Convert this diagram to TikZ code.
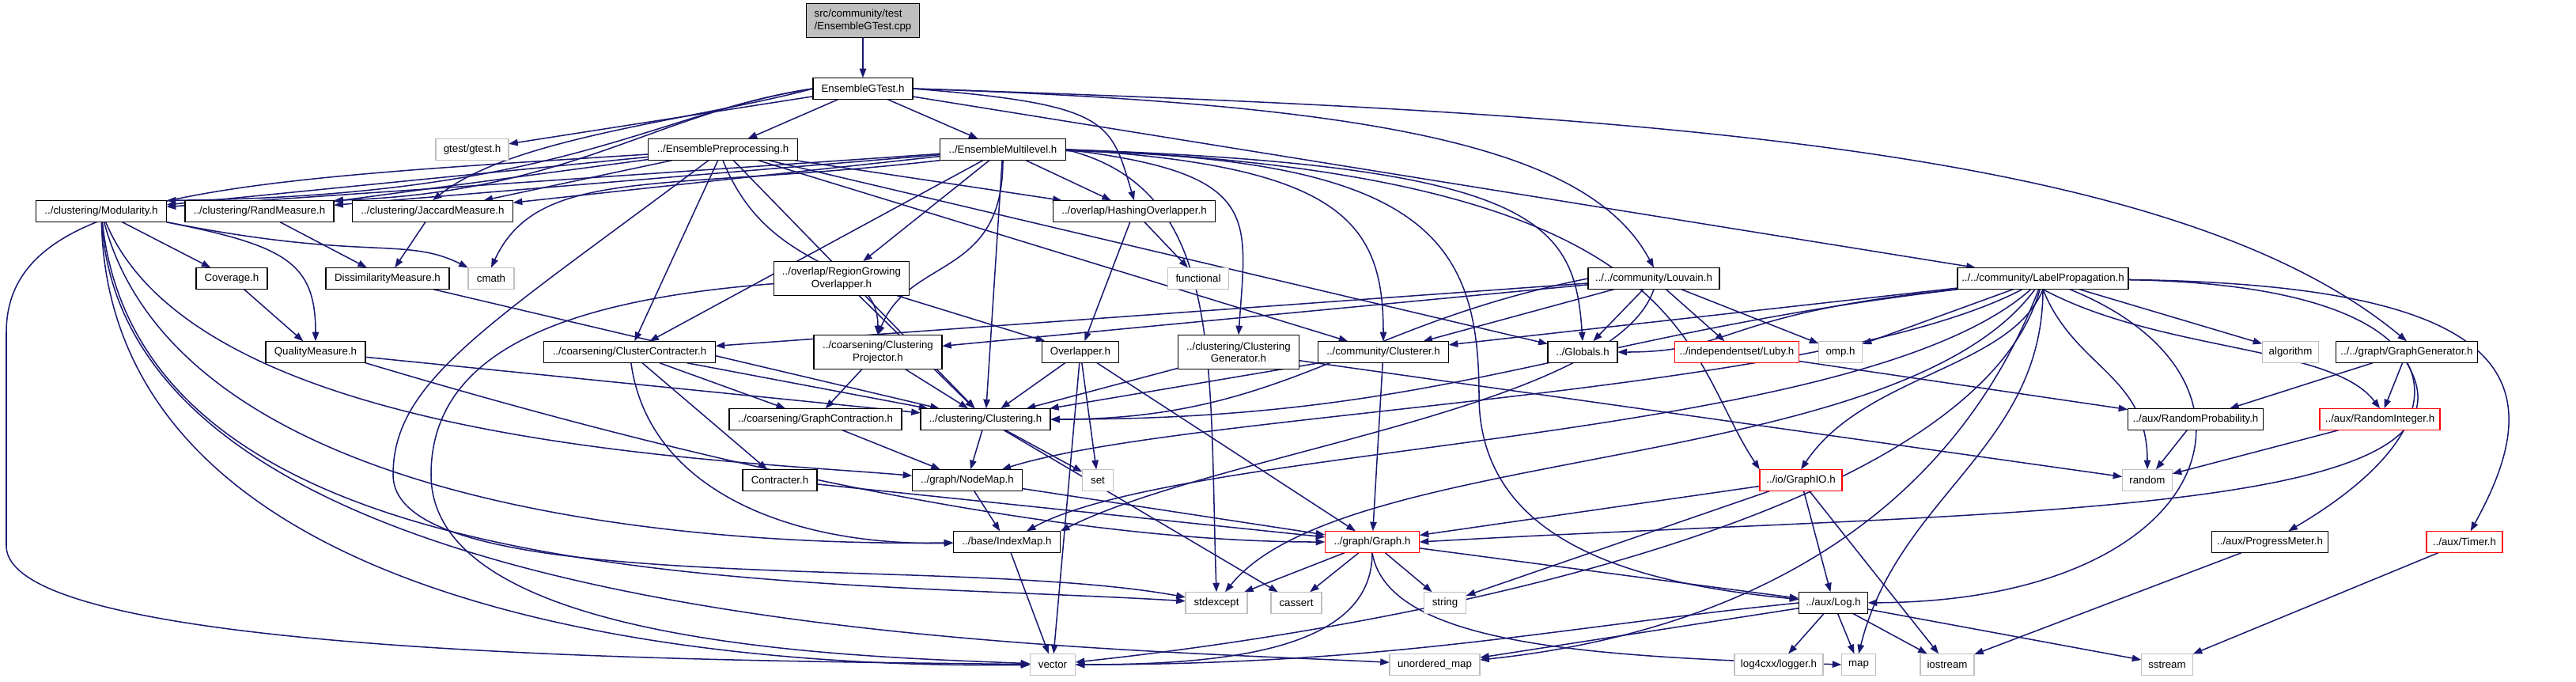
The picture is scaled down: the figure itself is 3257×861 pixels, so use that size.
\documentclass[tikz,border=0pt]{standalone}
\usepackage{fontspec}
\setmainfont{Liberation Sans}
\usetikzlibrary{arrows.meta,backgrounds}
\definecolor{edgeblue}{HTML}{191970}
\definecolor{sysgray}{HTML}{BFBFBF}

\begin{document}
\begin{tikzpicture}[x=1pt, y=1pt, scale=0.25,
	every node/.style={font=\fontsize{13.3}{15.5}\selectfont, transform shape},
	hdr/.style={draw=black, fill=white, line width=0.4pt, minimum height=27pt, inner sep=0pt, anchor=center, align=center},
	sys/.style={hdr, draw=sysgray},
	bad/.style={hdr, draw=red},
	dep/.style={draw=edgeblue, line width=0.38pt, -{Triangle[length=2.9pt,width=2.1pt]}}]
	\useasboundingbox (0,0) rectangle (3257,-861);
	\node[hdr, fill=sysgray, minimum width=143pt, minimum height=43pt, align=left] (cpp) at (1091,-26) {src/community/test\\/EnsembleGTest.cpp};
	\node[hdr, minimum width=126pt] (gtesth) at (1091,-112) {EnsembleGTest.h};
	\node[sys, minimum width=92pt] (gtest) at (597,-189) {gtest/gtest.h};
	\node[hdr, minimum width=189pt] (prep) at (914,-189) {../EnsemblePreprocessing.h};
	\node[hdr, minimum width=159pt] (multi) at (1268,-189) {../EnsembleMultilevel.h};
	\node[hdr, minimum width=165pt] (modul) at (128,-267) {../clustering/Modularity.h};
	\node[hdr, minimum width=188pt] (rand) at (328,-267) {../clustering/RandMeasure.h};
	\node[hdr, minimum width=203pt] (jacc) at (547,-267) {../clustering/JaccardMeasure.h};
	\node[hdr, minimum width=205pt] (hashov) at (1434,-267) {../overlap/HashingOverlapper.h};
	\node[hdr, minimum width=90pt] (cover) at (293,-352) {Coverage.h};
	\node[hdr, minimum width=156pt] (dissim) at (490,-352) {DissimilarityMeasure.h};
	\node[sys, minimum width=58pt] (cmath) at (621,-352) {cmath};
	\node[hdr, minimum width=171pt, minimum height=43pt] (regov) at (1064,-352) {../overlap/RegionGrowing\\Overlapper.h};
	\node[sys, minimum width=77pt] (functional) at (1515,-352) {functional};
	\node[hdr, minimum width=166pt] (louvain) at (2091,-352) {../../community/Louvain.h};
	\node[hdr, minimum width=216pt] (labelprop) at (2583,-352) {../../community/LabelPropagation.h};
	\node[hdr, minimum width=126pt] (quality) at (399,-445) {QualityMeasure.h};
	\node[hdr, minimum width=217pt] (clcontr) at (796,-445) {../coarsening/ClusterContracter.h};
	\node[hdr, minimum width=162pt, minimum height=43pt] (clproj) at (1110,-445) {../coarsening/Clustering\\Projector.h};
	\node[hdr, minimum width=97pt] (overl) at (1366,-445) {Overlapper.h};
	\node[hdr, minimum width=153pt, minimum height=43pt] (clgen) at (1566,-445) {../clustering/Clustering\\Generator.h};
	\node[hdr, minimum width=165pt] (clusterer) at (1749,-445) {../community/Clusterer.h};
	\node[hdr, minimum width=88pt] (globals) at (2001,-445) {../Globals.h};
	\node[bad, minimum width=157pt] (luby) at (2196,-445) {../independentset/Luby.h};
	\node[sys, minimum width=55pt] (omp) at (2327,-445) {omp.h};
	\node[sys, minimum width=71pt] (algorithm) at (2896,-445) {algorithm};
	\node[hdr, minimum width=179pt] (graphgen) at (3043,-445) {../../graph/GraphGenerator.h};
	\node[hdr, minimum width=218pt] (graphcontr) at (1031,-530) {../coarsening/GraphContraction.h};
	\node[hdr, minimum width=164pt] (clustering) at (1246,-530) {../clustering/Clustering.h};
	\node[hdr, minimum width=171pt] (randprob) at (2776,-530) {../aux/RandomProbability.h};
	\node[bad, minimum width=152pt] (randint) at (3009,-530) {../aux/RandomInteger.h};
	\node[hdr, minimum width=94pt] (contracter) at (986,-607) {Contracter.h};
	\node[hdr, minimum width=139pt] (nodemap) at (1223,-607) {../graph/NodeMap.h};
	\node[sys, minimum width=39pt] (set) at (1388,-607) {set};
	\node[bad, minimum width=104pt] (graphio) at (2277,-607) {../io/GraphIO.h};
	\node[sys, minimum width=63pt] (random) at (2715,-607) {random};
	\node[hdr, minimum width=135pt] (indexmap) at (1273,-685) {../base/IndexMap.h};
	\node[bad, minimum width=119pt] (graph) at (1735,-685) {../graph/Graph.h};
	\node[hdr, minimum width=147pt] (progress) at (2870,-685) {../aux/ProgressMeter.h};
	\node[bad, minimum width=96pt] (timer) at (3116,-685) {../aux/Timer.h};
	\node[sys, minimum width=78pt] (stdexcept) at (1538,-762) {stdexcept};
	\node[sys, minimum width=64pt] (cassert) at (1639,-762) {cassert};
	\node[sys, minimum width=53pt] (string) at (1827,-762) {string};
	\node[hdr, minimum width=87pt] (log) at (2318,-762) {../aux/Log.h};
	\node[sys, minimum width=57pt] (vector) at (1331,-840) {vector};
	\node[sys, minimum width=114pt] (umap) at (1814,-840) {unordered\_map};
	\node[sys, minimum width=112pt] (log4cxx) at (2249,-840) {log4cxx/logger.h};
	\node[sys, minimum width=43pt] (map) at (2350,-840) {map};
	\node[sys, minimum width=68pt] (iostream) at (2462,-840) {iostream};
	\node[sys, minimum width=65pt] (sstream) at (2740,-840) {sstream};
	\begin{scope}[on background layer]
	\path (cpp) edge[dep] (gtesth);
	\path (gtesth) edge[dep] (gtest) edge[dep] (prep) edge[dep] (multi) edge[dep] (labelprop);
	\draw[dep] (gtesth.west) .. controls +(-200,-30) and +(500,5) .. (modul.north east);
	\draw[dep] (gtesth.west) .. controls +(-200,-30) and +(300,10) .. (rand.north east);
	\draw[dep] (gtesth.west) .. controls +(-150,-40) and +(100,80) .. (jacc.north);
	\draw[dep] (gtesth.east) .. controls +(250,-20) and +(-30,100) .. (hashov.north);
	\draw[dep] (gtesth.east) .. controls +(600,-20) and +(-80,150) .. (louvain.north);
	\draw[dep] (gtesth.east) .. controls +(900,-30) and +(-300,250) .. (graphgen.north);
	\path (prep) edge[dep] (modul) edge[dep] (rand) edge[dep] (jacc) edge[dep] (hashov) edge[dep] (clcontr) edge[dep] (clustering) edge[dep] (clusterer) edge[dep] (globals);
	\draw[dep] (prep.south) .. controls +(60,-150) and +(0,100) .. (clproj.north);
	\draw[dep] (prep) .. controls (300,-228) and (8,-240) .. (8,-420) -- (8,-690) .. controls (8,-830) and (900,-835) .. (vector);
	\draw[dep] (prep) .. controls (620,-410) and (497,-480) .. (497,-600) .. controls (497,-760) and (1200,-700) .. (stdexcept);
	\path (multi) edge[dep] (modul) edge[dep] (rand) edge[dep] (jacc) edge[dep] (hashov) edge[dep] (regov) edge[dep] (clcontr) edge[dep] (clustering);
	\draw[dep] (multi.south west) .. controls +(-350,-40) and +(60,130) .. (cmath.north);
	\draw[dep] (multi.south) .. controls +(0,-150) and +(40,100) .. (clproj.north);
	\draw[dep] (multi.east) .. controls +(250,-30) and +(10,150) .. (clgen.north);
	\draw[dep] (multi.east) .. controls +(350,-20) and +(0,150) .. (clusterer.north);
	\draw[dep] (multi.east) .. controls +(600,-20) and +(-10,150) .. (globals.north);
	\draw[dep] (multi.east) .. controls +(800,-30) and +(-100,150) .. (graphio.north west);
	\draw[dep] (multi.east) .. controls +(200,-50) and +(-10,300) .. (stdexcept.north);
	\draw[dep] (multi) .. controls (1800,-200) and (1870,-300) .. (1870,-500) .. controls (1870,-700) and (2100,-740) .. (log);
	\path (modul) edge[dep] (cover);
	\draw[dep] (modul.south east) .. controls +(250,-50) and +(-80,40) .. (cmath.north west);
	\draw[dep] (modul.south east) .. controls +(150,-30) and +(0,100) .. (quality.north);
	\draw[dep] (modul) .. controls (250,-560) and (900,-580) .. (nodemap);
	\draw[dep] (modul) .. controls (230,-650) and (900,-690) .. (indexmap);
	\draw[dep] (modul) .. controls (180,-760) and (1000,-730) .. (stdexcept);
	\draw[dep] (modul) .. controls (160,-800) and (1300,-815) .. (umap);
	\draw[dep] (modul) .. controls (140,-780) and (900,-845) .. (vector);
	\path (rand) edge[dep] (dissim);
	\path (jacc) edge[dep] (dissim);
	\path (cover) edge[dep] (quality);
	\path (dissim) edge[dep] (clustering);
	\path (quality) edge[dep] (clustering);
	\draw[dep] (quality.south east) .. controls +(500,-150) and +(-300,0) .. (graph.west);
	\path (regov) edge[dep] (overl) edge[dep] (clustering);
	\draw[dep] (regov) .. controls (700,-380) and (545,-450) .. (545,-600) .. controls (545,-820) and (1100,-830) .. (vector);
	\path (hashov) edge[dep] (overl) edge[dep] (functional);
	\path (louvain) edge[dep] (clcontr) edge[dep] (clproj) edge[dep] (clusterer) edge[dep] (globals) edge[dep] (luby) edge[dep] (omp);
	\draw[dep] (louvain.west) .. controls +(-300,-60) and +(300,0) .. (clustering.east);
	\draw[dep] (louvain.south) .. controls +(-50,-150) and +(200,100) .. (indexmap.north east);
	\path (labelprop) edge[dep] (omp) edge[dep] (algorithm) edge[dep] (clusterer);
	\draw[dep] (labelprop.south west) .. controls +(-500,-60) and +(500,0) .. (clustering.east);
	\draw[dep] (labelprop.south west) .. controls +(-300,-30) and +(150,0) .. (globals.east);
	\draw[dep] (labelprop.south) .. controls +(150,-80) and +(-60,80) .. (randint.north);
	\draw[dep] (labelprop.south) .. controls +(40,-100) and +(0,120) .. (random.north);
	\draw[dep] (labelprop.south) .. controls +(-40,-100) and +(80,120) .. (graphio.north);
	\draw[dep] (labelprop.south) .. controls +(0,-200) and +(50,200) .. (map.north);
	\draw[dep] (labelprop) .. controls (2900,-480) and (2800,-760) .. (log);
	\draw[dep] (labelprop) .. controls (2500,-650) and (1800,-790) .. (vector);
	\draw[dep] (labelprop) .. controls (2400,-600) and (1700,-560) .. (stdexcept);
	\draw[dep] (labelprop) .. controls (2440,-720) and (2100,-810) .. (umap);
	\draw[dep] (labelprop) .. controls (2350,-560) and (1500,-560) .. (indexmap);
	\draw[dep] (labelprop) .. controls (2300,-500) and (1500,-520) .. (nodemap);
	\draw[dep] (labelprop) .. controls (3100,-360) and (3150,-520) .. (progress);
	\draw[dep] (labelprop) .. controls (3180,-360) and (3230,-480) .. (timer);
	\path (clcontr) edge[dep] (graphcontr) edge[dep] (contracter) edge[dep] (clustering);
	\draw[dep] (clcontr) .. controls (820,-620) and (1000,-690) .. (indexmap);
	\path (clproj) edge[dep] (graphcontr) edge[dep] (clustering);
	\path (overl) edge[dep] (clustering) edge[dep] (set) edge[dep] (vector) edge[dep] (graph);
	\path (clgen) edge[dep] (clustering) edge[dep] (random);
	\path (clusterer) edge[dep] (clustering) edge[dep] (graph);
	\path (luby) edge[dep] (randprob);
	\path (graphgen) edge[dep] (randprob) edge[dep] (randint);
	\draw[dep] (graphgen.south) .. controls +(120,-200) and +(700,40) .. (graph.east);
	\path (graphcontr) edge[dep] (nodemap);
	\path (clustering) edge[dep] (nodemap) edge[dep] (set) edge[dep] (cassert);
	\path (randprob) edge[dep] (random);
	\path (randint) edge[dep] (random);
	\path (contracter) edge[dep] (graph);
	\path (nodemap) edge[dep] (indexmap) edge[dep] (graph);
	\path (graphio) edge[dep] (graph) edge[dep] (string) edge[dep] (log) edge[dep] (iostream);
	\path (indexmap) edge[dep] (vector);
	\path (graph) edge[dep] (stdexcept) edge[dep] (cassert) edge[dep] (string) edge[dep] (log);
	\draw[dep] (graph.south) .. controls +(0,-120) and +(200,0) .. (vector.east);
	\draw[dep] (graph.south) .. controls +(20,-120) and +(-300,10) .. (map.west);
	\path (progress) edge[dep] (iostream);
	\path (timer) edge[dep] (sstream);
	\path (log) edge[dep] (log4cxx) edge[dep] (map) edge[dep] (iostream) edge[dep] (sstream) edge[dep] (umap);
	\draw[dep] (log.west) .. controls +(-300,-30) and +(400,0) .. (vector.east);
	\end{scope}
\end{tikzpicture}
\end{document}
